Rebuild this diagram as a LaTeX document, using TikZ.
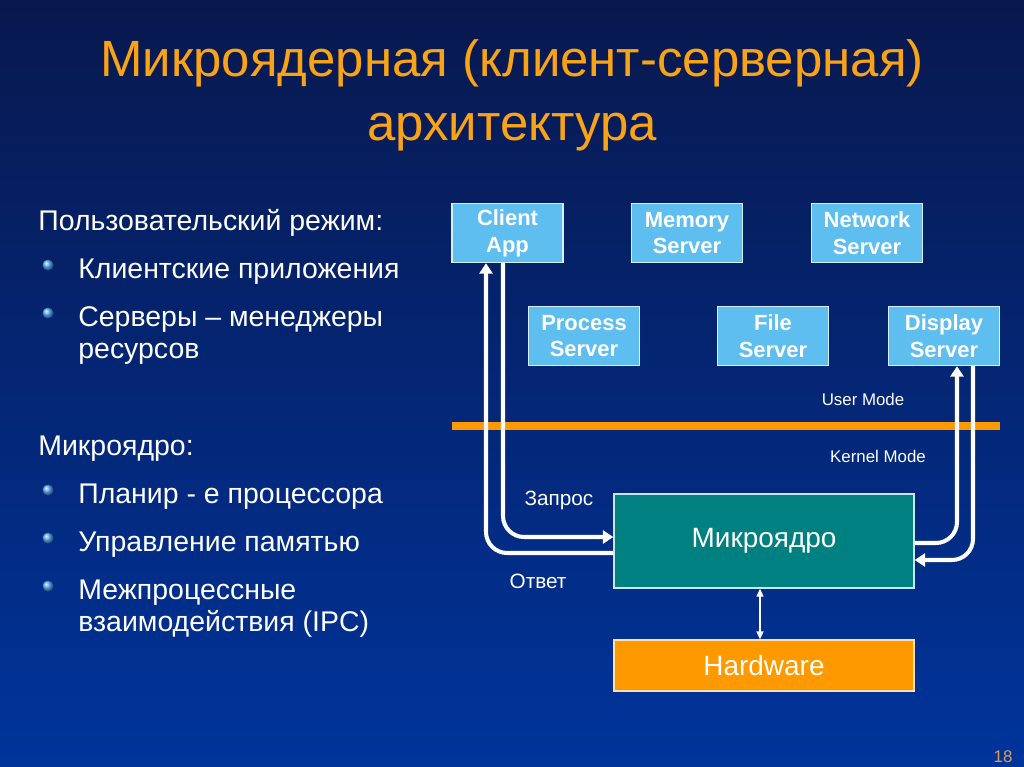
\documentclass[tikz,border=0pt]{standalone}
\usepackage{fontspec}
\setmainfont{Liberation Sans}
\usetikzlibrary{arrows.meta,calc}
\definecolor{bgtop}{RGB}{8,24,78}
\definecolor{bgbot}{RGB}{0,52,155}
\definecolor{titleor}{RGB}{250,163,20}
\definecolor{boxblue}{RGB}{95,190,240}
\definecolor{kteal}{RGB}{0,128,128}
\definecolor{hworange}{RGB}{255,153,0}
\definecolor{pagenum}{RGB}{215,160,90}
\definecolor{bulletblue}{RGB}{95,175,255}
\tikzset{
  srvbox/.style={draw=white!75!boxblue, line width=0.8pt, fill=boxblue, text=white,
    minimum width=2.22cm, minimum height=1.18cm, inner sep=0pt, align=center,
    font=\fontsize{12.5}{15.3}\selectfont\bfseries},
  bigbox/.style={draw=white!80!kteal, line width=0.8pt, minimum width=6cm, inner sep=0pt,
    text=white, font=\fontsize{15.9}{19}\selectfont},
  lefttxt/.style={anchor=base west, inner sep=0pt, text=white, font=\fontsize{16.2}{19}\selectfont},
  flow/.style={draw=white, line width=2.3pt, rounded corners=12pt,
    -{Triangle[width=7.5pt,length=6pt]}},
  hwarrow/.style={draw=white, line width=0.8pt, {Triangle[width=4pt,length=4.5pt]}-{Triangle[width=4pt,length=4.5pt]}},
  smalllbl/.style={text=white, inner sep=0pt, font=\fontsize{9.6}{11}\selectfont},
  reqlbl/.style={text=white, inner sep=0pt, font=\fontsize{11.8}{14}\selectfont},
  bullet/.style={ball color=bulletblue, draw=none},
}
\begin{document}
\begin{tikzpicture}[x=0.02cm,y=-0.02cm]
\useasboundingbox (0,0) rectangle (1024,767);
\shade[top color=bgtop, bottom color=bgbot] (0,0) rectangle (1024,767);

% title
\node[text=titleor, anchor=base, inner sep=0pt, font=\fontsize{29}{33}\selectfont] (t1) at (512,77) {Микроядерная (клиент-серверная)};
\node[text=titleor, anchor=base, inner sep=0pt, font=\fontsize{29}{33}\selectfont] (t2) at (512,140) {архитектура};

% left text
\node[lefttxt] (l1) at (38,230) {Пользовательский режим:};
\shade[bullet] (48,265) circle (0.11cm);
\node[lefttxt] (l2) at (78,278) {Клиентские приложения};
\shade[bullet] (48,313) circle (0.11cm);
\node[lefttxt] (l3) at (78,326) {Серверы – менеджеры};
\node[lefttxt] (l4) at (78,358) {ресурсов};
\node[lefttxt] (l5) at (38,455) {Микроядро:};
\shade[bullet] (48,490) circle (0.11cm);
\node[lefttxt] (l6) at (78,503) {Планир - е процессора};
\shade[bullet] (48,538) circle (0.11cm);
\node[lefttxt] (l7) at (78,551) {Управление памятью};
\shade[bullet] (48,586) circle (0.11cm);
\node[lefttxt] (l8) at (78,599) {Межпроцессные};
\node[lefttxt] (l9) at (78,631) {взаимодействия (IPC)};

% server boxes
\node[srvbox] (client) at (507.5,233) {Client\\App};
\node[srvbox] (memory) at (687,233) {Memory\\Server};
\node[srvbox] (network) at (867,233) {Network\\Server};
\node[srvbox] (process) at (584,336) {Process\\Server};
\node[srvbox] (file) at (773,336) {File\\Server};
\node[srvbox] (display) at (944,336) {Display\\Server};

% mode separator
\coordinate (ml) at (452,426);
\coordinate (mr) at (1000,426);
\draw[hworange, line width=4.5pt] (ml) -- (mr);
\node[smalllbl] (um) at (863,399) {User Mode};
\node[smalllbl] (km) at (878,456) {Kernel Mode};

% kernel and hardware
\node[bigbox, fill=kteal, minimum height=1.88cm] (kernel) at (764,541) {Микроядро};
\node[bigbox, fill=hworange, minimum height=1.02cm, draw=white!70!hworange] (hw) at (764,665.5) {Hardware};

% flows
\draw[flow] ($(client.south)+(-4.5,0)$) |- ($(kernel.west)+(0,-4)$);
\draw[flow] ($(kernel.west)+(0,12)$) -| ($(client.south)+(-21.5,0)$);
\draw[flow] ($(kernel.east)+(0,2)$) -| ($(display.south)+(13,0)$);
\draw[flow] ($(display.south)+(29,0)$) |- ($(kernel.east)+(0,19)$);
\draw[hwarrow] ($(kernel.south)+(-4,0)$) -- ($(hw.north)+(-4,0)$);

\node[reqlbl] (req) at (559,500) {Запрос};
\node[reqlbl] (resp) at (538,581) {Ответ};

\node[text=pagenum, inner sep=0pt, font=\fontsize{9.6}{11}\selectfont] (pg) at (1003,757) {18};
\end{tikzpicture}
\end{document}
